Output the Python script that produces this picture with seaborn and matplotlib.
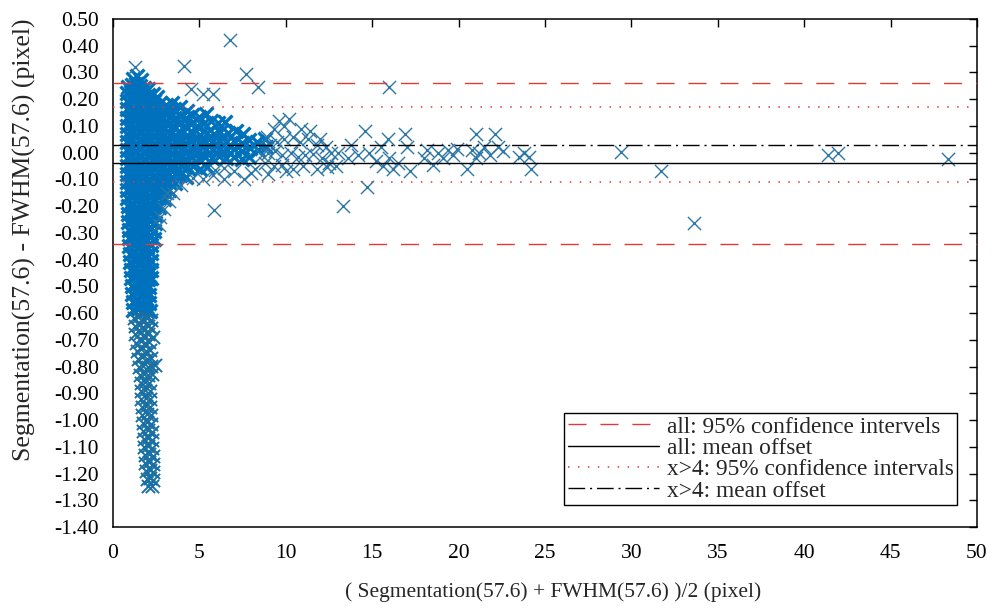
import pandas as pd
import matplotlib.pyplot as plt
import matplotlib.ticker as mticker
import seaborn as sns

# points, grouped by region
core_top = [
    (1.15, 0.275), (1.4, 0.285), (1.62, 0.272),
    (0.88, 0.245), (1.1, 0.252), (1.32, 0.258), (1.55, 0.249), (1.8, 0.243), (2.05, 0.238),
    (0.8, 0.222), (1.02, 0.226), (1.27, 0.219), (1.5, 0.228), (1.76, 0.221), (2.0, 0.215), (2.3, 0.218), (2.55, 0.21),
    (0.83, 0.192), (1.08, 0.196), (1.33, 0.188), (1.58, 0.195), (1.84, 0.19), (2.1, 0.186), (2.38, 0.193), (2.7, 0.187), (3.05, 0.18), (3.4, 0.185),
    (0.8, 0.163), (1.05, 0.158), (1.3, 0.166), (1.56, 0.16), (1.82, 0.155), (2.08, 0.162), (2.35, 0.157), (2.62, 0.165), (2.9, 0.155), (3.2, 0.16), (3.55, 0.165), (3.9, 0.17), (4.3, 0.155),
    (0.82, 0.13), (1.07, 0.134), (1.31, 0.127), (1.57, 0.132), (1.83, 0.126), (2.1, 0.133), (2.36, 0.128), (2.63, 0.135), (2.92, 0.129), (3.22, 0.133), (3.55, 0.127), (3.88, 0.138), (4.25, 0.13), (4.6, 0.142), (5.0, 0.135), (5.4, 0.145),
    (0.8, 0.1), (1.05, 0.104), (1.3, 0.097), (1.55, 0.103), (1.8, 0.098), (2.06, 0.105), (2.33, 0.099), (2.6, 0.104), (2.88, 0.096), (3.18, 0.102), (3.5, 0.099), (3.83, 0.106), (4.17, 0.1), (4.52, 0.108), (4.88, 0.1), (5.25, 0.11), (5.65, 0.12), (6.05, 0.112), (6.5, 0.115),
]
core_mid = [
    (0.83, 0.07), (1.08, 0.073), (1.33, 0.067), (1.59, 0.072), (1.85, 0.066), (2.12, 0.074), (2.4, 0.068), (2.68, 0.072), (2.97, 0.066), (3.28, 0.071), (3.6, 0.068), (3.94, 0.074), (4.3, 0.067), (4.66, 0.072), (5.03, 0.068), (5.42, 0.075), (5.82, 0.07), (6.22, 0.078), (6.65, 0.072), (7.1, 0.08), (7.5, 0.07),
    (0.8, 0.04), (1.05, 0.044), (1.3, 0.037), (1.56, 0.042), (1.82, 0.036), (2.09, 0.043), (2.37, 0.038), (2.65, 0.045), (2.94, 0.037), (3.25, 0.042), (3.57, 0.039), (3.9, 0.045), (4.25, 0.038), (4.6, 0.044), (4.97, 0.037), (5.35, 0.043), (5.75, 0.039), (6.15, 0.046), (6.57, 0.04), (7.0, 0.045), (7.45, 0.038), (7.9, 0.047), (8.35, 0.04), (8.8, 0.05),
    (0.82, 0.01), (1.07, 0.014), (1.32, 0.007), (1.58, 0.012), (1.84, 0.006), (2.11, 0.013), (2.39, 0.008), (2.67, 0.015), (2.96, 0.007), (3.27, 0.012), (3.59, 0.009), (3.92, 0.015), (4.27, 0.008), (4.63, 0.014), (5.0, 0.007), (5.38, 0.013), (5.78, 0.009), (6.18, 0.016), (6.6, 0.01), (7.03, 0.015), (7.48, 0.008), (7.93, 0.016), (8.4, 0.01), (8.85, 0.02),
    (0.8, -0.02), (1.05, -0.016), (1.3, -0.023), (1.56, -0.018), (1.82, -0.024), (2.09, -0.017), (2.37, -0.022), (2.65, -0.015), (2.94, -0.023), (3.25, -0.018), (3.57, -0.021), (3.9, -0.015), (4.25, -0.022), (4.6, -0.016), (4.97, -0.023), (5.35, -0.017), (5.75, -0.021), (6.15, -0.014), (6.57, -0.02), (7.0, -0.016), (7.45, -0.023), (7.9, -0.015),
    (0.83, -0.05), (1.08, -0.046), (1.33, -0.053), (1.59, -0.048), (1.85, -0.054), (2.12, -0.047), (2.4, -0.052), (2.68, -0.045), (2.97, -0.053), (3.28, -0.048), (3.6, -0.051), (3.94, -0.046), (4.3, -0.055), (4.66, -0.05), (5.03, -0.06), (5.45, -0.055),
    (0.8, -0.08), (1.05, -0.076), (1.3, -0.083), (1.56, -0.078), (1.82, -0.084), (2.09, -0.077), (2.37, -0.082), (2.65, -0.075), (2.94, -0.083), (3.25, -0.078), (3.57, -0.081), (3.9, -0.085), (4.25, -0.09),
]
core_low = [
    (0.82, -0.11), (1.07, -0.106), (1.32, -0.113), (1.58, -0.108), (1.84, -0.114), (2.11, -0.107), (2.39, -0.112), (2.67, -0.105), (2.96, -0.113), (3.27, -0.108), (3.6, -0.115),
    (0.8, -0.14), (1.05, -0.136), (1.3, -0.143), (1.56, -0.138), (1.82, -0.144), (2.09, -0.137), (2.37, -0.142), (2.65, -0.135), (2.94, -0.143), (3.25, -0.14),
    (0.83, -0.17), (1.08, -0.166), (1.33, -0.173), (1.59, -0.168), (1.85, -0.174), (2.12, -0.167), (2.4, -0.172), (2.68, -0.165), (2.97, -0.175),
    (0.85, -0.2), (1.1, -0.196), (1.35, -0.203), (1.6, -0.198), (1.86, -0.204), (2.12, -0.197), (2.4, -0.202), (2.68, -0.205),
    (0.87, -0.23), (1.12, -0.226), (1.37, -0.233), (1.62, -0.228), (1.88, -0.234), (2.14, -0.227), (2.42, -0.232),
    (0.88, -0.26), (1.13, -0.256), (1.38, -0.263), (1.63, -0.258), (1.89, -0.264), (2.15, -0.257), (2.43, -0.262),
    (0.9, -0.29), (1.15, -0.286), (1.4, -0.293), (1.65, -0.288), (1.9, -0.294), (2.16, -0.287), (2.38, -0.292),
    (0.92, -0.32), (1.17, -0.316), (1.42, -0.323), (1.67, -0.318), (1.92, -0.324), (2.17, -0.317), (2.35, -0.322),
    (0.95, -0.35), (1.2, -0.346), (1.45, -0.353), (1.7, -0.348), (1.95, -0.354), (2.2, -0.347),
    (0.98, -0.38), (1.22, -0.376), (1.47, -0.383), (1.72, -0.378), (1.97, -0.384), (2.2, -0.377),
    (1.0, -0.41), (1.25, -0.406), (1.5, -0.413), (1.75, -0.408), (2.0, -0.414), (2.2, -0.407),
    (1.02, -0.44), (1.27, -0.436), (1.52, -0.443), (1.77, -0.438), (2.02, -0.444), (2.2, -0.437),
    (1.05, -0.47), (1.3, -0.466), (1.55, -0.473), (1.8, -0.468), (2.05, -0.474), (2.2, -0.467),
    (1.08, -0.5), (1.33, -0.496), (1.58, -0.503), (1.83, -0.498), (2.08, -0.504),
    (1.12, -0.53), (1.37, -0.526), (1.62, -0.533), (1.87, -0.528), (2.1, -0.534),
    (1.15, -0.56), (1.4, -0.556), (1.65, -0.563), (1.9, -0.558), (2.1, -0.564),
    (1.18, -0.59), (1.43, -0.586), (1.68, -0.593), (1.93, -0.588), (2.12, -0.594),
]
tail = [
    (1.22, -0.62), (1.47, -0.616), (1.72, -0.623), (1.97, -0.618), (2.2, -0.624),
    (1.25, -0.65), (1.5, -0.646), (1.75, -0.653), (2.0, -0.648), (2.22, -0.654),
    (1.3, -0.68), (1.55, -0.676), (1.8, -0.683), (2.05, -0.678), (2.31, -0.689),
    (1.35, -0.71), (1.6, -0.706), (1.85, -0.713), (2.1, -0.708),
    (1.4, -0.74), (1.65, -0.736), (1.9, -0.743), (2.15, -0.738),
    (1.45, -0.77), (1.7, -0.766), (1.95, -0.773), (2.18, -0.768), (2.43, -0.794),
    (1.5, -0.8), (1.75, -0.796), (2.0, -0.803), (2.22, -0.798),
    (1.55, -0.83), (1.8, -0.826), (2.05, -0.833), (2.25, -0.828),
    (1.6, -0.86), (1.85, -0.856), (2.1, -0.863),
    (1.62, -0.89), (1.88, -0.886), (2.12, -0.893),
    (1.65, -0.92), (1.9, -0.916), (2.15, -0.923),
    (1.68, -0.95), (1.93, -0.946), (2.17, -0.953),
    (1.7, -0.98), (1.95, -0.976), (2.2, -0.983),
    (1.72, -1.01), (1.97, -1.006), (2.22, -1.013),
    (1.75, -1.04), (2.0, -1.036), (2.25, -1.043),
    (1.78, -1.07), (2.02, -1.066), (2.27, -1.073),
    (1.8, -1.1), (2.05, -1.096), (2.28, -1.103),
    (1.83, -1.13), (2.08, -1.126), (2.3, -1.133),
    (1.85, -1.16), (2.1, -1.156), (2.3, -1.163),
    (1.9, -1.19), (2.12, -1.186), (2.3, -1.193),
    (1.95, -1.22), (2.15, -1.216), (2.32, -1.223),
    (2.05, -1.248), (2.25, -1.245),
]
fan = [
    (1.27, 0.32), (4.1, 0.324), (6.77, 0.421), (7.7, 0.295), (8.4, 0.245), (4.5, 0.24), (5.2, 0.22), (5.8, 0.22),
    (5.85, -0.215), (3.1, -0.15), (3.5, -0.15), (3.25, -0.18), (2.95, -0.21), (2.7, -0.24), (2.65, -0.27),
    (3.95, -0.12), (4.65, -0.095), (5.2, -0.1), (5.8, -0.085), (6.4, -0.1), (5.9, -0.065), (6.4, -0.058), (7.0, -0.07),
    (7.6, -0.1), (8.0, -0.075), (8.2, -0.06), (9.0, -0.08), (10.0, -0.07),
    (8.9, 0.06), (9.3, 0.09), (9.6, 0.12), (9.9, 0.1), (10.2, 0.125), (9.1, 0.03), (9.5, 0.04),
    (9.9, 0.05), (10.4, 0.06), (10.8, 0.04), (11.3, 0.05), (11.8, 0.03), (12.3, 0.02), (8.6, -0.01),
    (9.0, 0.0), (9.4, 0.005), (9.8, -0.01), (10.3, 0.0), (10.7, -0.015), (11.1, -0.01), (11.6, -0.005),
    (12.1, -0.02), (12.5, -0.04), (8.8, -0.04), (9.3, -0.05), (9.8, -0.045), (10.4, -0.06), (11.0, -0.05),
    (11.8, -0.06), (12.4, -0.055), (11.4, 0.08), (10.9, 0.09), (12.0, 0.05), (12.6, 0.0),
]
sparse = [
    (13.3, -0.2), (14.6, 0.08), (14.7, -0.13), (14.2, -0.01), (14.8, 0.0), (15.2, -0.03), (15.6, -0.05),
    (15.9, 0.05), (16.2, -0.06), (16.5, -0.04), (16.9, 0.07), (17.2, -0.07), (17.0, 0.02), (15.5, 0.02),
    (16.0, -0.02), (13.0, 0.0), (13.6, -0.02), (12.9, -0.05), (13.8, 0.03), (16.0, 0.245),
    (18.2, 0.01), (18.5, -0.045), (18.8, 0.0), (19.1, -0.02), (19.4, 0.01), (19.7, -0.01), (18.0, -0.02), (19.9, 0.015),
    (20.5, -0.06), (21.0, 0.07), (21.2, 0.0), (21.5, 0.02), (21.8, -0.01), (22.1, 0.07), (22.3, 0.02),
    (22.6, 0.005), (21.0, -0.02), (20.8, 0.01),
    (23.5, -0.015), (24.1, -0.015), (24.2, -0.06), (23.8, 0.0),
    (29.4, 0.003), (31.7, -0.068), (33.6, -0.263), (41.4, -0.01), (41.95, 0.0), (48.3, -0.024),
]

all_mean = -0.04
all_ci = [-0.34, 0.26]
x4_mean = 0.03
x4_ci = [-0.11, 0.172]

dense = pd.DataFrame(core_top + core_mid + core_low, columns=['avg', 'diff'])
lower = pd.DataFrame(tail, columns=['avg', 'diff'])
loose = pd.DataFrame(fan + sparse, columns=['avg', 'diff'])

sns.set_style('white')
plt.rcParams['font.family'] = ['Liberation Serif', 'DejaVu Serif']
plt.rcParams['axes.unicode_minus'] = False

fig = plt.figure(figsize=(9.97, 6.11), dpi=100)
ax = fig.add_axes([0.1133, 0.1375, 0.8666, 0.8314])

blue = '#0072BD'
sns.scatterplot(data=dense, x='avg', y='diff', marker='x', color=blue,
                s=100, linewidth=2.4, ax=ax, legend=False, zorder=2)
sns.scatterplot(data=lower, x='avg', y='diff', marker='x', color='#1a6fa3',
                s=90, linewidth=1.4, ax=ax, legend=False, zorder=2)
sns.scatterplot(data=loose, x='avg', y='diff', marker='x', color='#2a77a8',
                s=90, linewidth=1.0, ax=ax, legend=False, zorder=2)

red = '#dd3b3b'
l1 = None
for v in all_ci:
    l1 = ax.axhline(v, color=red, lw=1.0, dashes=(13, 10), zorder=3)
l2 = ax.axhline(all_mean, color='black', lw=1.0, zorder=3)
l3 = None
for v in x4_ci:
    l3 = ax.axhline(v, color=red, lw=1.1, dashes=(1, 5.5), zorder=3)
l4 = ax.axhline(x4_mean, color='black', lw=1.0, dashes=(12, 3.5, 1.5, 3.5), zorder=3)

ax.set_xlim(0, 50)
ax.set_ylim(-1.4, 0.5)
ax.set_xticks(range(0, 51, 5))
ax.set_yticks([i / 10 for i in range(-14, 6)])
ax.yaxis.set_major_formatter(mticker.FuncFormatter(lambda v, p: f'{v:.2f}'))
ax.tick_params(direction='in', length=6, width=1, top=True, right=True,
               labelsize=15.5, colors='black')
ax.tick_params(axis='y', pad=10)
ax.tick_params(axis='x', pad=12)
for s in ax.spines.values():
    s.set_visible(True)
    s.set_color('black')
    s.set_linewidth(1.1)

ax.set_xlabel('( Segmentation(57.6) + FWHM(57.6) )/2 (pixel)', fontsize=15.5)
ax.set_ylabel('Segmentation(57.6) - FWHM(57.6) (pixel)', fontsize=18.5)
ax.xaxis.set_label_coords(0.509, -0.108)
ax.yaxis.set_label_coords(-0.089, 0.565)

leg = ax.legend([l1, l2, l3, l4],
                ['all: 95% confidence intervels', 'all: mean offset',
                 'x>4: 95% confidence intervals', 'x>4: mean offset'],
                loc='lower right', bbox_to_anchor=(0.977, 0.043), borderaxespad=0,
                fontsize=16.8, handlelength=3.9, handletextpad=0.35,
                labelspacing=0.0, borderpad=0.15, fancybox=False, framealpha=1,
                edgecolor='black')
leg.get_frame().set_linewidth(1.0)

fig.savefig('out.png', dpi=100)
